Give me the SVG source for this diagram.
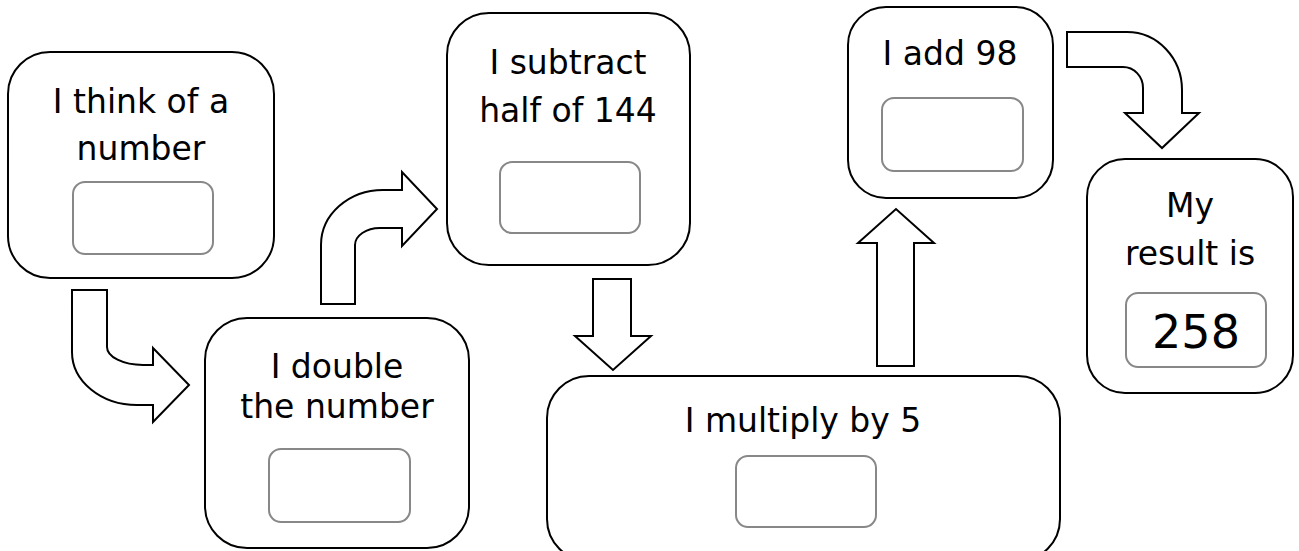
<svg xmlns="http://www.w3.org/2000/svg" width="1299" height="551" viewBox="0 0 1299 551">
<style>
.box{fill:#fff;stroke:#000;stroke-width:2}
.slot{fill:#fff;stroke:#888;stroke-width:2}
.arrow{fill:#fff;stroke:#000;stroke-width:2;stroke-linejoin:miter}
.t{font-family:"DejaVu Sans","Noto Sans",sans-serif;font-size:33px;fill:#000;text-anchor:middle}
.big{font-size:46px}
</style>
<rect width="1299" height="551" fill="#fff"/>
<g id="connectors">
<path class="arrow" d="M72,290 L107,290 L107,347 A36 18 0 0 0 143,365 L153,365 L153,348 L189,385 L153,422 L153,405 L137,405 A65 53 0 0 1 72,352 Z"/>
<path class="arrow" d="M321,304 L321,245 A62 55 0 0 1 383,190 L402,190 L402,172 L437,209 L402,246 L402,228 L380,228 A25 17 0 0 0 355,245 L355,304 Z"/>
<path class="arrow" d="M593,279 L631,279 L631,336 L651,336 L613,370 L575,336 L593,336 Z"/>
<path class="arrow" d="M877,366 L877,243 L858,243 L896,209 L934,243 L914,243 L914,366 Z"/>
<path class="arrow" d="M1067,32 L1127,32 A55 58 0 0 1 1182,90 L1182,113 L1199,113 L1162,148 L1125,113 L1143,113 L1143,88 A20 21 0 0 0 1123,67 L1067,67 Z"/>
</g>
<g id="node1">
<rect class="box" x="8" y="52" width="266" height="226" rx="42"/>
<text class="t" x="141" y="113">I think of a</text>
<text class="t" x="141" y="160">number</text>
<rect class="slot" x="73" y="182" width="140" height="72" rx="12"/>
</g>
<g id="node2">
<rect class="box" x="205" y="318" width="264" height="230" rx="42"/>
<text class="t" x="337" y="378">I double</text>
<text class="t" x="337" y="418">the number</text>
<rect class="slot" x="269" y="449" width="141" height="73" rx="12"/>
</g>
<g id="node3">
<rect class="box" x="447" y="13" width="243" height="252" rx="42"/>
<text class="t" x="568" y="74">I subtract</text>
<text class="t" x="568" y="122">half of 144</text>
<rect class="slot" x="500" y="162" width="140" height="71" rx="12"/>
</g>
<g id="node4">
<rect class="box" x="547" y="376" width="513" height="185" rx="42"/>
<text class="t" x="803" y="432">I multiply by 5</text>
<rect class="slot" x="736" y="456" width="140" height="71" rx="12"/>
</g>
<g id="node5">
<rect class="box" x="848" y="7" width="205" height="191" rx="38"/>
<text class="t" x="950" y="65">I add 98</text>
<rect class="slot" x="882" y="98" width="141" height="73" rx="12"/>
</g>
<g id="node6">
<rect class="box" x="1087" y="159" width="206" height="234" rx="38"/>
<text class="t" x="1190" y="217">My</text>
<text class="t" x="1190" y="265">result is</text>
<rect class="slot" x="1126" y="293" width="140" height="74" rx="12"/>
<text class="t big" x="1196" y="348">258</text>
</g>
</svg>
